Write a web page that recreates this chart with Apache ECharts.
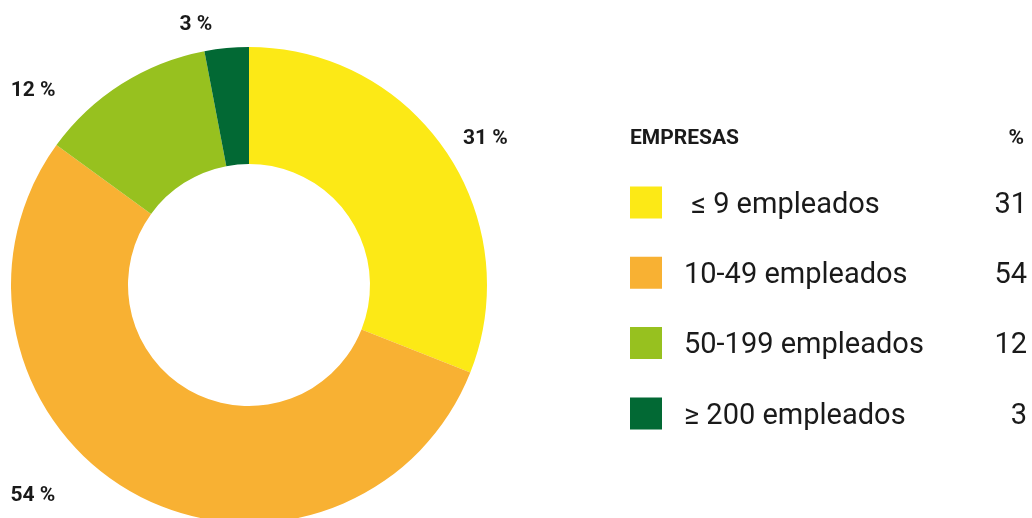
<!DOCTYPE html>
<html>
<head>
<meta charset="utf-8">
<script src="https://cdn.jsdelivr.net/npm/echarts@6/dist/echarts.min.js"></script>
<style>
  html, body { margin: 0; padding: 0; background: #fff; }
  #chart-container { width: 1032px; height: 518px; }
</style>
</head>
<body>
<div id="chart-container"></div>
<script>
var dom = document.getElementById('chart-container');
var myChart = echarts.init(dom, null, { renderer: 'canvas' });

// data
var categories = [' ≤ 9 empleados', '10-49 empleados', '50-199 empleados', '≥ 200 empleados'];
var shares = [31, 54, 12, 3];
var colors = ['#FCE916', '#F8B133', '#97C11F', '#026934'];
// label line lengths (radial, horizontal) + small nudges so the % labels sit like the original
var labelLens = [[22, 0], [0, 74], [0, 61], [24, 7]];
var labelDx = [-6, 0, 0, 0];
var labelDy = [0, 2, 7, 1];

var pieData = categories.map(function (name, i) {
  return {
    name: name,
    value: shares[i],
    itemStyle: { color: colors[i] },
    labelLine: { show: false, length: labelLens[i][0], length2: labelLens[i][1] }
  };
});

var headStyle = { fontFamily: 'Roboto', fontWeight: 'bold', fontSize: 21, color: '#1a1a1a' };
var rowText = { fontSize: 29, fontFamily: 'Roboto', color: '#1a1a1a', lineHeight: 32, padding: [6, 0, 0, 0] };

var option = {
  animation: false,
  title: [
    { text: 'EMPRESAS', left: 630, top: 128, padding: 0, textStyle: headStyle },
    { text: '%', right: 8, top: 128, padding: 0, textStyle: headStyle }
  ],
  legend: {
    orient: 'vertical',
    left: 630,
    top: 185,
    padding: 0,
    itemWidth: 32,
    itemHeight: 32,
    itemGap: 35.3,
    icon: 'rect',
    selectedMode: false,
    data: categories,
    formatter: function (name) {
      var i = categories.indexOf(name);
      return '{s| }{n|' + name + '}{v|' + shares[i] + '}';
    },
    textStyle: {
      rich: {
        s: Object.assign({}, rowText, { width: 17 }),
        n: Object.assign({}, rowText, { width: 300 }),
        v: Object.assign({}, rowText, { width: 43, align: 'right' })
      }
    }
  },
  series: [
    {
      type: 'pie',
      center: [249, 285],
      radius: [121, 238],
      startAngle: 90,
      clockwise: true,
      silent: true,
      avoidLabelOverlap: false,
      data: pieData,
      label: {
        show: true,
        position: 'outside',
        formatter: '{c} %',
        fontFamily: 'Roboto',
        fontWeight: 'bold',
        fontSize: 21,
        color: '#1a1a1a'
      },
      labelLine: { show: false },
      labelLayout: function (params) {
        return { dx: labelDx[params.dataIndex], dy: labelDy[params.dataIndex] };
      }
    }
  ]
};

myChart.setOption(option);
window.addEventListener('resize', myChart.resize);
</script>
</body>
</html>
